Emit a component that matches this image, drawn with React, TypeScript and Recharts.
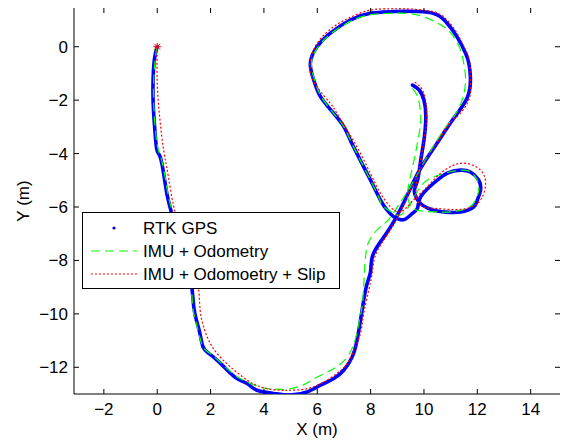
import React from 'react';
import { ScatterChart, Scatter, XAxis, YAxis } from 'recharts';

// trajectories, [x, y] in metres
const rtkGps: [number, number][] = [
  [0, 0], [-0.11, -0.5], [-0.16, -1.5], [-0.14, -2.37], [-0.08, -3.24], [-0.01, -3.87],
  [0.11, -4.12], [0.24, -4.74], [0.36, -5.49], [0.51, -6.12], [0.72, -6.9], [0.95, -7.7],
  [1.15, -8.4], [1.3, -9.05], [1.37, -9.74], [1.47, -10.24], [1.6, -10.73], [1.72, -11.24],
  [1.93, -11.48], [2.24, -11.73], [2.62, -12.1], [2.99, -12.42], [3.37, -12.61], [3.74, -12.86],
  [4.36, -12.98], [4.99, -13.04], [5.62, -12.92], [6.12, -12.67], [6.62, -12.42], [7.0, -12.1],
  [7.31, -11.61], [7.49, -10.99], [7.62, -10.24], [7.74, -9.49], [7.87, -8.86], [8.0, -8.4],
  [8.09, -7.78], [8.5, -7.12], [8.88, -6.53], [9.3, -5.72], [9.7, -4.87], [10.13, -4.15],
  [10.57, -3.49], [11.1, -2.7], [11.63, -1.89], [11.74, -1.12], [11.68, -0.61], [11.56, -0.24],
  [11.24, 0.37], [10.87, 0.88], [10.5, 1.19], [9.99, 1.31], [9.3, 1.33], [8.74, 1.31],
  [7.99, 1.25], [7.24, 1.0], [6.49, 0.51], [5.99, 0], [5.74, -0.62], [5.87, -1.25],
  [6.12, -1.87], [6.62, -2.5], [7.0, -3.0], [7.24, -3.5], [7.49, -4.0], [7.74, -4.5],
  [8.06, -5.12], [8.37, -5.74], [8.62, -6.12], [8.87, -6.37], [9.1, -6.47], [9.31, -6.45],
  [9.57, -6.24], [9.76, -6.04], [9.87, -5.63], [10.36, -5.11], [10.88, -4.73], [11.37, -4.62],
  [11.74, -4.69], [12.05, -4.99], [12.12, -5.37], [12.0, -5.74], [11.86, -6.0], [11.37, -6.19],
  [10.81, -6.19], [10.36, -6.12], [9.94, -5.93], [9.72, -5.67], [9.64, -5.37], [9.76, -4.99],
  [9.88, -4.24], [10.0, -3.49], [10.07, -2.62], [10.0, -2.0], [9.82, -1.62], [9.57, -1.44],
];

const imuOdometry: [number, number][] = [
  [0, 0], [-0.08, -0.5], [-0.14, -1.5], [-0.12, -2.4], [-0.05, -3.3], [0.05, -3.9],
  [0.15, -4.2], [0.28, -4.8], [0.4, -5.5], [0.55, -6.12], [0.75, -6.9], [0.97, -7.7],
  [1.15, -8.4], [1.28, -9.05], [1.33, -9.74], [1.43, -10.24], [1.56, -10.73], [1.7, -11.2],
  [1.93, -11.45], [2.24, -11.7], [2.62, -12.05], [2.99, -12.35], [3.37, -12.55], [3.86, -12.74],
  [4.4, -12.82], [4.99, -12.8], [5.5, -12.65], [5.94, -12.4], [6.57, -12.08], [6.9, -11.85],
  [7.19, -11.52], [7.44, -10.9], [7.58, -10.24], [7.69, -9.65], [7.75, -8.8], [7.78, -8.2],
  [7.82, -7.78], [7.94, -7.28], [8.32, -6.78], [8.69, -6.45], [9.1, -5.85], [9.49, -5.24],
  [10.12, -4.12], [10.74, -3.12], [11.12, -2.62], [11.43, -2.0], [11.56, -1.25], [11.49, -0.62],
  [11.37, -0.12], [11.12, 0.37], [10.74, 0.75], [9.99, 1.12], [9.3, 1.25], [8.74, 1.25],
  [7.99, 1.2], [7.24, 0.95], [6.49, 0.47], [6.0, -0.05], [5.78, -0.62], [5.9, -1.25],
  [6.15, -1.87], [6.62, -2.5], [7.0, -3.0], [7.24, -3.5], [7.49, -4.0], [7.74, -4.5],
  [8.06, -5.12], [8.35, -5.75], [8.49, -5.99], [8.87, -6.24], [9.12, -6.3], [9.45, -5.95],
  [9.87, -5.24], [10.37, -4.87], [10.99, -4.68], [11.37, -4.62], [11.74, -4.68], [11.99, -4.99],
  [12.05, -5.37], [11.93, -5.74], [11.62, -6.05], [10.99, -6.18], [10.37, -6.18], [9.74, -6.12],
  [9.5, -5.95], [9.4, -5.7], [9.42, -5.2], [9.63, -4.24], [9.82, -3.24], [9.88, -2.62],
  [9.76, -1.87], [9.44, -1.43],
];

const imuOdometrySlip: [number, number][] = [
  [0, 0], [0.0, -1.37], [0.09, -2.62], [0.24, -3.87], [0.42, -4.87], [0.62, -5.99],
  [0.9, -6.9], [1.15, -7.7], [1.38, -8.4], [1.55, -9.05], [1.61, -9.86], [1.74, -10.49],
  [1.93, -10.99], [2.24, -11.48], [2.74, -11.98], [3.37, -12.48], [3.99, -12.77], [4.62, -12.86],
  [4.99, -12.86], [5.62, -12.8], [6.25, -12.55], [6.74, -12.23], [7.12, -11.86], [7.37, -11.36],
  [7.62, -10.73], [7.74, -9.99], [7.93, -9.11], [8.07, -8.4], [8.19, -7.78], [8.55, -7.15],
  [8.94, -6.53], [9.32, -5.75], [9.68, -4.95], [10.1, -4.2], [10.55, -3.5], [11.0, -2.8],
  [11.24, -2.62], [11.68, -2.0], [11.74, -1.25], [11.72, -0.62], [11.6, -0.2], [11.3, 0.4],
  [10.92, 0.95], [10.5, 1.26], [9.99, 1.37], [9.3, 1.42], [8.74, 1.42], [7.99, 1.37],
  [7.24, 1.1], [6.62, 0.75], [5.99, 0.12], [5.72, -0.75], [5.99, -1.5], [6.49, -2.12],
  [6.74, -2.5], [7.1, -3.1], [7.49, -3.75], [7.99, -4.74], [8.37, -5.49], [8.74, -5.99],
  [9.12, -6.18], [9.55, -5.8], [10.12, -5.24], [10.62, -4.74], [11.12, -4.43], [11.62, -4.37],
  [12.12, -4.62], [12.31, -5.11], [12.12, -5.74], [11.62, -6.05], [10.99, -6.09], [10.37, -6.05],
  [9.9, -5.95], [9.7, -5.5], [9.76, -4.87], [9.94, -3.87], [10.07, -3.0], [10.09, -2.25],
  [9.94, -1.62], [9.63, -1.31],
];

const startPoint: [number, number][] = [[0, 0]];

const xTicks = [-2, 0, 2, 4, 6, 8, 10, 12, 14];
const yTicks = [-12, -10, -8, -6, -4, -2, 0];
const xDomain = [-3.12, 15.1];
const yDomain = [-13, 1.45];

const legendItems = ['RTK GPS', 'IMU + Odometry', 'IMU + Odomoetry + Slip'];

const toPts = (arr: [number, number][]) => arr.map(([x, y]) => ({ x, y }));

const FONT = '"Liberation Sans", Arial, Helvetica, sans-serif';
const W = 564;
const H = 442;
const PLOT = { left: 74, top: 8, right: 560, bottom: 394 };
const TICK = 5;

const fmt = (v: number) => (v < 0 ? '\u2212' + Math.abs(v) : String(v));

const XTick = (props: any) => {
  const { x, payload } = props;
  return (
    <g>
      <line x1={x} x2={x} y1={PLOT.bottom} y2={PLOT.bottom - TICK} stroke="#000" />
      <line x1={x} x2={x} y1={PLOT.top} y2={PLOT.top + TICK} stroke="#000" />
      <text x={x} y={PLOT.bottom + 21} textAnchor="middle" fontSize={17} fontFamily={FONT} fill="#000">
        {fmt(payload.value)}
      </text>
    </g>
  );
};

const YTick = (props: any) => {
  const { y, payload } = props;
  return (
    <g>
      <line x1={PLOT.left} x2={PLOT.left + TICK} y1={y} y2={y} stroke="#000" />
      <line x1={PLOT.right} x2={PLOT.right - TICK} y1={y} y2={y} stroke="#000" />
      <text x={PLOT.left - 6} y={y + 6} textAnchor="end" fontSize={17} fontFamily={FONT} fill="#000">
        {fmt(payload.value)}
      </text>
    </g>
  );
};

const XLabel = () => (
  <text x={(PLOT.left + PLOT.right) / 2} y={435} textAnchor="middle" fontSize={17} fontFamily={FONT} fill="#000">
    X (m)
  </text>
);

const YLabel = () => (
  <text
    transform={`translate(29, ${(PLOT.top + PLOT.bottom) / 2}) rotate(-90)`}
    textAnchor="middle"
    fontSize={17}
    fontFamily={FONT}
    fill="#000"
  >
    Y (m)
  </text>
);

const NoDot = () => <g />;

const Asterisk = (props: any) => {
  const { cx, cy } = props;
  const r = 4;
  const d = r * 0.72;
  return (
    <g stroke="#ff0000" strokeWidth={1}>
      <line x1={cx - r} x2={cx + r} y1={cy} y2={cy} />
      <line x1={cx} x2={cx} y1={cy - r} y2={cy + r} />
      <line x1={cx - d} x2={cx + d} y1={cy - d} y2={cy + d} />
      <line x1={cx - d} x2={cx + d} y1={cy + d} y2={cy - d} />
    </g>
  );
};

const LegendBox = () => (
  <svg
    width={258}
    height={77}
    style={{ position: 'absolute', left: 82, top: 212, background: '#fff' }}
  >
    <rect x={0.5} y={0.5} width={257} height={76} fill="#fff" stroke="#000" />
    <circle cx={32} cy={16} r={1.6} fill="#0000ff" />
    <line x1={9} x2={55} y1={39} y2={39} stroke="#00ff00" strokeDasharray="9 5" />
    <line x1={9} x2={55} y1={62} y2={62} stroke="#ff0000" strokeDasharray="2 2" />
    {legendItems.map((t, i) => (
      <text key={t} x={61} y={22 + i * 23} fontSize={17} fontFamily={FONT} fill="#000">
        {t}
      </text>
    ))}
  </svg>
);

export default function App() {
  return (
    <div style={{ position: 'absolute', left: 0, top: 0, width: W, height: H, background: '#fff' }}>
      <ScatterChart width={W} height={H} margin={{ top: 8, right: 4, bottom: 0, left: 0 }}>
        <XAxis
          type="number"
          dataKey="x"
          domain={xDomain}
          ticks={xTicks}
          interval={0}
          allowDataOverflow
          height={48}
          tickLine={false}
          tick={<XTick />}
          axisLine={{ stroke: '#000' }}
          label={<XLabel />}
        />
        <XAxis
          xAxisId="top"
          orientation="top"
          type="number"
          domain={xDomain}
          allowDataOverflow
          height={0}
          tick={false}
          tickLine={false}
          axisLine={{ stroke: '#000' }}
        />
        <YAxis
          type="number"
          dataKey="y"
          domain={yDomain}
          ticks={yTicks}
          interval={0}
          allowDataOverflow
          width={74}
          tickLine={false}
          tick={<YTick />}
          axisLine={{ stroke: '#000' }}
          label={<YLabel />}
        />
        <YAxis
          yAxisId="right"
          orientation="right"
          type="number"
          domain={yDomain}
          allowDataOverflow
          width={0}
          tick={false}
          tickLine={false}
          axisLine={{ stroke: '#000' }}
        />
        <Scatter
          data={toPts(rtkGps)}
          line={{ stroke: '#0000ff', strokeWidth: 3.6, strokeLinejoin: 'round', strokeLinecap: 'round' }}
          lineJointType="natural"
          shape={<NoDot />}
          fill="#0000ff"
          isAnimationActive={false}
        />
        <Scatter
          data={toPts(imuOdometry)}
          line={{ stroke: '#00ff00', strokeWidth: 1.2, strokeDasharray: '9 5' }}
          lineJointType="natural"
          shape={<NoDot />}
          fill="#00ff00"
          isAnimationActive={false}
        />
        <Scatter
          data={toPts(imuOdometrySlip)}
          line={{ stroke: '#ff0000', strokeWidth: 1.2, strokeDasharray: '2 2' }}
          lineJointType="natural"
          shape={<NoDot />}
          fill="#ff0000"
          isAnimationActive={false}
        />
        <Scatter data={toPts(startPoint)} shape={<Asterisk />} fill="#ff0000" isAnimationActive={false} />
      </ScatterChart>
      <LegendBox />
    </div>
  );
}
